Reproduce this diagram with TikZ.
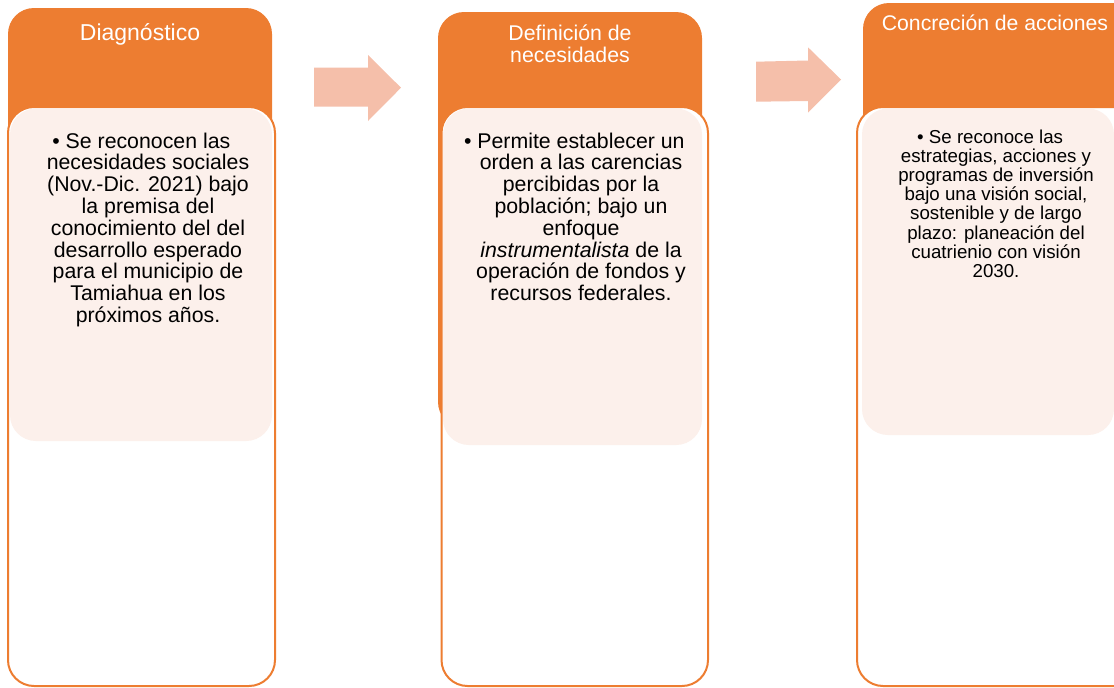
\documentclass[tikz,border=0pt]{standalone}
\usepackage{fontspec}
\setmainfont{Liberation Sans}
\definecolor{orng}{RGB}{237,125,49}
\definecolor{pinkf}{RGB}{252,240,235}
\definecolor{arrc}{RGB}{245,191,170}
\newcommand{\bul}{\llap{\textbullet\ }}
\lineskiplimit=-30pt
\begin{document}
\begin{tikzpicture}[x=1pt,y=-1pt,
  header/.style={fill=orng, rounded corners=26pt},
  outerbox/.style={draw=orng, line width=2pt, fill=white, rounded corners=26pt},
  childbox/.style={fill=pinkf, rounded corners=26pt},
  blockarrow/.style={fill=arrc},
  titletext/.style={text=white, inner sep=0pt, align=center},
  bodytext/.style={text=black, inner sep=0pt, align=center}]
\useasboundingbox (0,0) rectangle (1114,688);
\clip (0,0) rectangle (1114,688);
% column 1
\fill[header] (8,8) rectangle (272,430);
\draw[outerbox] (8,107) rectangle (275,686);
\fill[childbox] (10,108.5) rectangle (272,441);
% column 2
\fill[header] (438,12) rectangle (702,428);
\draw[outerbox] (441.5,107) rectangle (708,686);
\fill[childbox] (443,108.5) rectangle (702,445);
% column 3
\fill[header] (863,3) rectangle (1140,420);
\draw[outerbox] (857,107) rectangle (1140,686);
\fill[childbox] (862,108.5) rectangle (1114,435);
% block arrows
\fill[blockarrow] (314,67.7) -- (368,67.7) -- (368,55) -- (401,87.7) -- (368,121) -- (368,106.7) -- (314,106.7) -- cycle;
\fill[blockarrow] (756,61.7) -- (808,60.5) -- (808,47.3) -- (841,79.5) -- (808,112.7) -- (808,101) -- (756,101.7) -- cycle;
% titles
\node[titletext, font={\fontsize{23}{23}\selectfont}, anchor=base] (t1) at (140,40) {Diagnóstico};
\node[titletext, font={\fontsize{21.3}{21.5}\selectfont}, anchor=north] (t2) at (570,25) {Definición de\\necesidades};
\node[titletext, font={\fontsize{21.2}{21.2}\selectfont}, anchor=base] (t3) at (995,30.5) {Concreción de acciones};
% bodies
\node[bodytext, font={\fontsize{21.3}{21.8}\selectfont}, anchor=north] (b1) at (148,132.5)
 {\bul Se reconocen las\\necesidades sociales\\(Nov.-Dic. 2021) bajo\\la premisa del\\conocimiento del del\\desarrollo esperado\\para el municipio de\\Tamiahua en los\\próximos años.};
\node[bodytext, font={\fontsize{21.3}{21.8}\selectfont}, anchor=north] (b2) at (581,132.5)
 {\bul Permite establecer un\\orden a las carencias\\percibidas por la\\población; bajo un\\enfoque\\\textit{instrumentalista} de la\\operación de fondos y\\recursos federales.};
\node[bodytext, font={\fontsize{18.7}{19.2}\selectfont}, anchor=north] (b3) at (996,129.3)
 {\bul Se reconoce las\\estrategias, acciones y\\programas de inversión\\bajo una visión social,\\sostenible y de largo\\plazo: planeación del\\cuatrienio con visión\\2030.};
\end{tikzpicture}
\end{document}
